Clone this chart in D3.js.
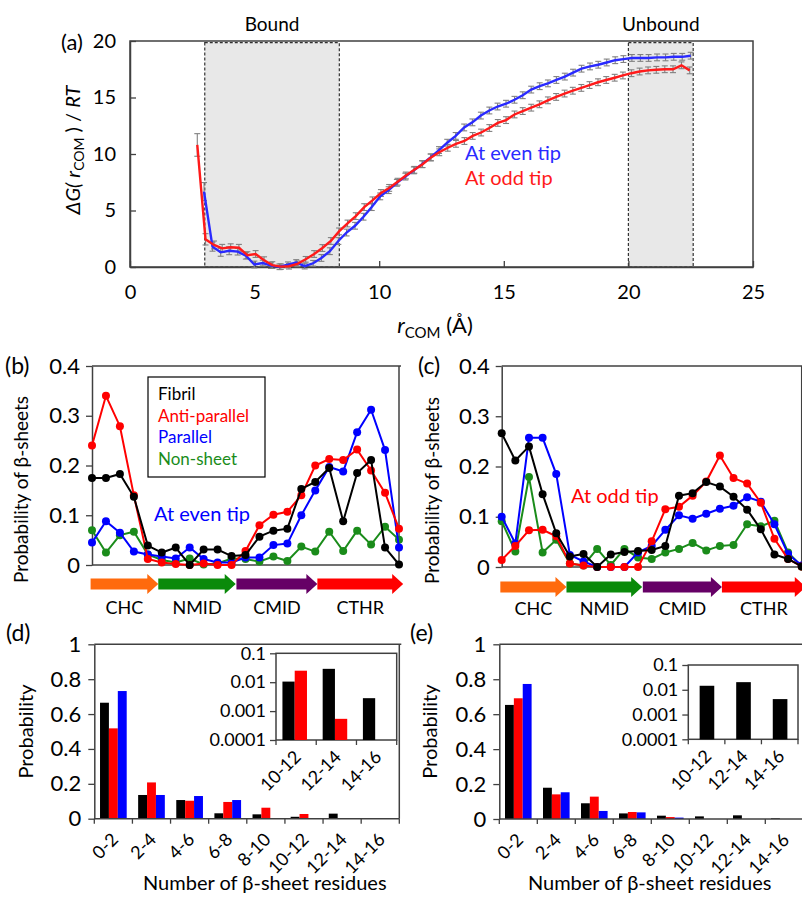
<!DOCTYPE html>
<html><head><meta charset="utf-8">
<script src="https://cdn.jsdelivr.net/npm/d3@7"></script>
<style>body{margin:0;background:#fff}svg text{font-family:Lato,'Open Sans',sans-serif;fill:#000}</style>
</head><body><svg id="c" width="802" height="899"></svg>
<script>
// ---------- DATA ----------
// (a) free energy profiles
const rOdd = [2.70,3.03,3.37,3.70,4.04,4.37,4.71,5.04,5.38,5.71,6.05,6.38,6.72,7.05,7.39,7.72,8.06,8.39,8.73,9.06,9.40,9.73,10.07,10.40,10.74,11.07,11.41,11.74,12.08,12.41,12.75,13.08,13.42,13.75,14.09,14.42,14.76,15.09,15.43,15.76,16.10,16.43,16.77,17.10,17.44,17.77,18.11,18.44,18.78,19.11,19.45,19.78,20.12,20.45,20.79,21.12,21.46,21.79,22.13,22.46];
const gOdd = [10.8,2.45,1.95,1.65,1.75,1.7,1.05,1.15,0.6,0.17,0.03,0.07,0.28,0.68,1.15,1.68,2.3,3.15,3.85,4.5,5.3,5.9,6.55,7.0,7.55,8.1,8.6,9.1,9.7,10.15,10.55,10.9,11.15,11.6,11.9,12.3,12.75,13.0,13.5,13.8,14.1,14.4,14.75,15.05,15.35,15.6,15.85,16.1,16.35,16.55,16.75,16.95,17.15,17.3,17.4,17.45,17.5,17.5,17.85,17.4];
const eOdd = [1.0,0.5,0.35,0.35,0.3,0.3,0.3,0.3,0.3,0.3,0.25,0.25,0.25,0.25,0.3,0.3,0.3,0.3,0.3,0.3,0.3,0.3,0.3,0.3,0.3,0.3,0.3,0.3,0.3,0.3,0.3,0.3,0.3,0.3,0.3,0.3,0.3,0.3,0.3,0.3,0.3,0.3,0.3,0.3,0.3,0.3,0.3,0.3,0.3,0.3,0.3,0.3,0.3,0.3,0.3,0.3,0.3,0.3,0.3,0.3];
const rEven = [2.97,3.31,3.64,3.98,4.32,4.65,4.99,5.33,5.66,6.00,6.34,6.67,7.01,7.35,7.68,8.02,8.36,8.69,9.03,9.37,9.70,10.04,10.38,10.71,11.05,11.39,11.72,12.06,12.40,12.73,13.07,13.41,13.74,14.08,14.42,14.75,15.09,15.43,15.76,16.10,16.44,16.77,17.11,17.45,17.78,18.12,18.46,18.79,19.13,19.47,19.80,20.14,20.48,20.81,21.15,21.49,21.82,22.16,22.50];
const gEven = [6.67,1.8,1.3,1.44,1.36,1.0,0.22,0.35,0.12,0.02,0.2,0.4,0.08,0.33,0.8,1.4,2.3,3.05,3.65,4.45,5.3,6.25,6.8,7.45,8.0,8.55,9.1,9.7,10.35,11.0,11.6,12.35,12.8,13.4,13.85,14.2,14.45,14.8,15.2,15.7,16.0,16.25,16.55,16.85,17.2,17.55,17.75,17.9,18.1,18.3,18.4,18.5,18.5,18.5,18.55,18.55,18.6,18.6,18.7];
const eEven = [0.8,0.4,0.35,0.35,0.3,0.3,0.3,0.25,0.25,0.25,0.25,0.25,0.25,0.25,0.3,0.3,0.3,0.3,0.3,0.3,0.3,0.3,0.3,0.3,0.3,0.3,0.3,0.3,0.3,0.3,0.3,0.3,0.3,0.3,0.3,0.3,0.3,0.3,0.3,0.3,0.3,0.3,0.3,0.3,0.3,0.3,0.3,0.3,0.3,0.3,0.3,0.3,0.3,0.3,0.3,0.3,0.3,0.3,0.3];
const aXTicks = [0,5,10,15,20,25];
const aYTicks = [0,5,10,15,20];
const regionNames = ["Bound","Unbound"];
const regionFrom = [3.0,20.0];
const regionTo = [8.4,22.6];
const seriesA = ["At even tip","At odd tip"];

// (b),(c) per-residue beta-sheet probability (23 residues)
const profSeries = ["Fibril","Anti-parallel","Parallel","Non-sheet"];
const bFibril = [0.175,0.175,0.183,0.137,0.039,0.025,0.035,0.0,0.031,0.031,0.018,0.020,0.057,0.069,0.073,0.153,0.167,0.195,0.088,0.185,0.211,0.035,0.001];
const bAnti   = [0.240,0.340,0.279,0.140,0.012,0.005,0.002,0.0,0.003,0.0,0.0,0.028,0.080,0.101,0.107,0.140,0.200,0.213,0.211,0.232,0.190,0.145,0.073];
const bPar    = [0.045,0.088,0.065,0.027,0.021,0.017,0.013,0.035,0.012,0.005,0.005,0.015,0.015,0.040,0.043,0.100,0.150,0.197,0.188,0.267,0.312,0.231,0.035];
const bNon    = [0.070,0.025,0.060,0.067,0.021,0.010,0.005,0.013,0.001,0.003,0.013,0.012,0.007,0.017,0.008,0.037,0.027,0.067,0.028,0.069,0.041,0.077,0.051];
const cFibril = [0.266,0.212,0.240,0.145,0.067,0.021,0.026,0.0,0.025,0.030,0.032,0.034,0.042,0.142,0.147,0.169,0.160,0.140,0.114,0.075,0.025,0.016,0.001];
const cAnti   = [0.014,0.042,0.073,0.074,0.061,0.007,0.003,0.0,0.0,0.0,0.0,0.051,0.115,0.120,0.142,0.170,0.222,0.177,0.166,0.128,0.056,0.016,0.001];
const cPar    = [0.100,0.047,0.257,0.257,0.185,0.024,0.011,0.0,0.0,0.0,0.029,0.042,0.074,0.103,0.096,0.106,0.116,0.122,0.139,0.130,0.085,0.026,0.003];
const cNon    = [0.091,0.031,0.179,0.029,0.054,0.007,0.003,0.036,0.004,0.036,0.019,0.016,0.029,0.036,0.048,0.033,0.042,0.044,0.085,0.081,0.092,0.029,0.001];
const profYTicks = [0,0.1,0.2,0.3,0.4];
const profYLabels = ["0","0.1","0.2","0.3","0.4"];
const segNames = ["CHC","NMID","CMID","CTHR"];
const segFrom = [-0.1,4.75,10.35,16.15];
const segTo   = [4.75,10.3,16.15,22.3];

// (d),(e) distribution of number of beta-sheet residues
const sizeCats = ["0-2","2-4","4-6","6-8","8-10","10-12","12-14","14-16"];
const dFibril = [0.665,0.136,0.107,0.031,0.025,0.011,0.029,0.003];
const dAnti   = [0.518,0.208,0.103,0.096,0.063,0.027,0.0005,0];
const dPar    = [0.732,0.136,0.130,0.107,0,0,0,0];
const eFibril = [0.653,0.179,0.090,0.032,0.019,0.015,0.021,0.004];
const eAnti   = [0.691,0.141,0.128,0.040,0.011,0,0,0];
const ePar    = [0.773,0.153,0.046,0.038,0.008,0,0,0];
const insetCats = ["10-12","12-14","14-16"];
const dInsetFibril = [0.0105,0.029,0.0028];
const dInsetAnti   = [0.025,0.00054,0];
const eInsetFibril = [0.0145,0.0203,0.0042];
const barYTicks = [0,0.2,0.4,0.6,0.8,1];
const barYLabels = ["0","0.2","0.4","0.6","0.8","1"];
const logTicks = [0.0001,0.001,0.01,0.1];
const logLabels = ["0.0001","0.001","0.01","0.1"];

// ---------- DRAW ----------
const svg = d3.select("#c");
const AX = "#404040";
const COL = {black:"#000000", red:"#ff0000", blue:"#0000ff", green:"#1a8c1a"};
const profColors = [COL.black, COL.red, COL.blue, COL.green];
const segColors = ["#ff6a0d","#0a8a0a","#660066","#ff0000"];

function styleAxis(g, fs){
  g.attr("font-size", fs).attr("font-family", null);
  g.select(".domain").attr("stroke", AX).attr("stroke-width", 1.5);
  g.selectAll(".tick line").attr("stroke", AX).attr("stroke-width", 1.3);
  g.selectAll(".tick text").attr("font-size", fs).style("font-size", fs+"px").attr("fill","#000");
}
function txt(x, y, s, fs, opt={}){
  const t = svg.append("text").attr("x", x).attr("y", y).attr("font-size", fs).text(s);
  if (opt.anchor) t.attr("text-anchor", opt.anchor);
  if (opt.fill) t.style("fill", opt.fill);
  if (opt.rot) t.attr("transform", `rotate(${opt.rot},${x},${y})`);
  return t;
}

// ===== Panel (a) =====
const xA = d3.scaleLinear().domain([0,25]).range([130,753]);
const yA = d3.scaleLinear().domain([0,20]).range([267,41]);
regionNames.forEach((n,i)=>{
  svg.append("rect").attr("x", xA(regionFrom[i])).attr("y", yA(19.85))
    .attr("width", xA(regionTo[i])-xA(regionFrom[i])).attr("height", yA(0)-yA(19.85))
    .attr("fill","#e8e8e8").attr("stroke","#333").attr("stroke-width",1.2).attr("stroke-dasharray","3,2");
  txt((xA(regionFrom[i])+xA(regionTo[i]))/2, 31, n, 19, {anchor:"middle"});
});
svg.append("rect").attr("x", xA(0)).attr("y", yA(20)).attr("width", xA(25)-xA(0)).attr("height", yA(0)-yA(20))
  .attr("fill","none").attr("stroke", AX).attr("stroke-width",1.5);
const gxA = svg.append("g").attr("transform",`translate(0,${yA(0)})`)
  .call(d3.axisBottom(xA).tickValues(aXTicks).tickSizeInner(-6).tickSizeOuter(0).tickPadding(18));
styleAxis(gxA, 20);
const gyA = svg.append("g").attr("transform",`translate(${xA(0)},0)`)
  .call(d3.axisLeft(yA).tickValues(aYTicks).tickSizeInner(-6).tickSizeOuter(0).tickPadding(14));
styleAxis(gyA, 20);

function errBars(rs, gs, es){
  const g = svg.append("g").attr("stroke","#808080").attr("stroke-width",1.1);
  rs.forEach((r,i)=>{
    const x = xA(r), y1 = yA(gs[i]-es[i]), y2 = yA(gs[i]+es[i]);
    g.append("line").attr("x1",x).attr("x2",x).attr("y1",y1).attr("y2",y2);
    g.append("line").attr("x1",x-3).attr("x2",x+3).attr("y1",y1).attr("y2",y1);
    g.append("line").attr("x1",x-3).attr("x2",x+3).attr("y1",y2).attr("y2",y2);
  });
}
errBars(rEven, gEven, eEven);
errBars(rOdd, gOdd, eOdd);
const lineA = d3.line().x(d=>xA(d[0])).y(d=>yA(d[1]));
svg.append("path").datum(rEven.map((r,i)=>[r,gEven[i]])).attr("d", lineA)
  .attr("fill","none").attr("stroke","#2a2aff").attr("stroke-width",2.4);
svg.append("path").datum(rOdd.map((r,i)=>[r,gOdd[i]])).attr("d", lineA)
  .attr("fill","none").attr("stroke","#ff1a1a").attr("stroke-width",2.4);
txt(465, 160, seriesA[0], 20, {fill:"#2a2aff"});
txt(465, 185, seriesA[1], 20, {fill:"#ff1a1a"});
txt(61, 50, "(a)", 22);
{
  const t = svg.append("text").attr("transform","translate(80,150) rotate(-90)").attr("text-anchor","middle").attr("font-size",20);
  t.append("tspan").attr("font-style","italic").text("ΔG(");
  t.append("tspan").text(" ");
  t.append("tspan").attr("font-style","italic").text("r");
  t.append("tspan").attr("font-size",14).attr("dy",4).text("COM");
  t.append("tspan").attr("dy",-4).text(" ) / ");
  t.append("tspan").attr("font-style","italic").text("RT");
}
{
  const t = svg.append("text").attr("x",435).attr("y",333).attr("text-anchor","middle").attr("font-size",22);
  t.append("tspan").attr("font-style","italic").text("r");
  t.append("tspan").attr("font-size",15).attr("dy",5).text("COM");
  t.append("tspan").attr("dy",-5).text(" (Å)");
}

// ===== Panels (b),(c) =====
function profile(o){
  const x = d3.scaleLinear().domain([0,22]).range(o.xr);
  const y = d3.scaleLinear().domain([0,0.4]).range(o.yr);
  svg.append("line").attr("x1",o.xr[0]).attr("x2",o.xr[1]+2).attr("y1",o.yr[1]).attr("y2",o.yr[1]).attr("stroke",AX).attr("stroke-width",1.5);
  svg.append("line").attr("x1",o.xr[1]).attr("x2",o.xr[1]).attr("y1",o.yr[1]).attr("y2",o.yr[0]).attr("stroke",AX).attr("stroke-width",1.5);
  const gy = svg.append("g").attr("transform",`translate(${o.xr[0]},0)`)
    .call(d3.axisLeft(y).tickValues(profYTicks).tickFormat((d,i)=>profYLabels[i]).tickSizeInner(6).tickSizeOuter(0).tickPadding(6));
  styleAxis(gy, 22);
  svg.append("line").attr("x1",o.xr[0]).attr("x2",o.xr[1]).attr("y1",o.yr[0]).attr("y2",o.yr[0]).attr("stroke",AX).attr("stroke-width",1.5);
  const line = d3.line().x((d,i)=>x(i)).y(d=>y(d));
  [3,2,1,0].forEach(k=>{
    const vals = o.data[k];
    svg.append("path").datum(vals).attr("d", line).attr("fill","none").attr("stroke", profColors[k]).attr("stroke-width",2);
    svg.append("g").selectAll("circle").data(vals).join("circle")
      .attr("cx",(d,i)=>x(i)).attr("cy",d=>y(d)).attr("r",4).attr("fill", profColors[k]);
  });
  segNames.forEach((n,i)=>{
    const x0 = x(segFrom[i]), x1 = x(segTo[i]), cy = o.arrowY, hl = 11;
    const p = [[x0,cy-5.5],[x1-hl,cy-5.5],[x1-hl,cy-10],[x1,cy],[x1-hl,cy+10],[x1-hl,cy+5.5],[x0,cy+5.5]];
    svg.append("path").attr("d", d3.line()(p)+"Z").attr("fill", segColors[i]);
    txt((x0+x1)/2, o.labelY, n, 18, {anchor:"middle"});
  });
  svg.append("text").attr("transform",`translate(${o.titleX},${(o.yr[0]+o.yr[1])/2+24}) rotate(-90)`)
    .attr("text-anchor","middle").attr("font-size",19).text("Probability of β-sheets");
  txt(o.tagX, o.yr[1]+8, o.tag, 23);
  return {x,y};
}
profile({xr:[92,399], yr:[565,366], data:[bFibril,bAnti,bPar,bNon], arrowY:584, labelY:614, titleX:28, tagX:5, tag:"(b)"});
profile({xr:[501.7,801.7], yr:[567,366], data:[cFibril,cAnti,cPar,cNon], arrowY:587, labelY:615, titleX:439, tagX:418, tag:"(c)"});
svg.append("rect").attr("x",148).attr("y",377).attr("width",117).attr("height",100).attr("fill","#fff").attr("stroke","#000").attr("stroke-width",1.2);
profSeries.forEach((s,i)=>txt(158, 400+i*21.7, s, 17, {fill: profColors[i]}));
txt(154, 521, "At even tip", 20, {fill:COL.blue});
txt(571, 503, "At odd tip", 20, {fill:COL.red});

// ===== Panels (d),(e) =====
function bars(o){
  const x = d3.scaleBand().domain(sizeCats).range(o.xr).padding(0);
  const y = d3.scaleLinear().domain([0,1]).range(o.yr);
  svg.append("line").attr("x1",o.xr[0]).attr("x2",o.xr[1]+2).attr("y1",o.yr[1]).attr("y2",o.yr[1]).attr("stroke",AX).attr("stroke-width",1.5);
  svg.append("line").attr("x1",o.xr[1]).attr("x2",o.xr[1]).attr("y1",o.yr[1]).attr("y2",o.yr[0]).attr("stroke",AX).attr("stroke-width",1.5);
  const bw = x.bandwidth();
  const sub = d3.scaleBand().domain([0,1,2]).range([bw*0.15, bw*0.85]).padding(0);
  const cols = [COL.black, COL.red, COL.blue];
  o.data.forEach((vals,k)=>{
    svg.append("g").selectAll("rect").data(vals).join("rect")
      .attr("x",(d,i)=>x(sizeCats[i])+sub(k)).attr("width",sub.bandwidth())
      .attr("y",d=>y(d)).attr("height",d=>y(0)-y(d)).attr("fill",cols[k]);
  });
  const gy = svg.append("g").attr("transform",`translate(${o.xr[0]},0)`)
    .call(d3.axisLeft(y).tickValues(barYTicks).tickFormat((d,i)=>barYLabels[i]).tickSizeInner(6).tickSizeOuter(0).tickPadding(7));
  styleAxis(gy, 22);
  svg.append("line").attr("x1",o.xr[0]).attr("x2",o.xr[1]).attr("y1",o.yr[0]).attr("y2",o.yr[0]).attr("stroke",AX).attr("stroke-width",1.5);
  sizeCats.forEach((c,i)=>{
    const xb = x(c);
    svg.append("line").attr("x1",xb).attr("x2",xb).attr("y1",o.yr[0]).attr("y2",o.yr[0]+5).attr("stroke",AX).attr("stroke-width",1.3);
    txt(xb + bw/2 + 6, o.yr[0] + 22, c, 18, {anchor:"end", rot:-45});
  });
  svg.append("line").attr("x1",o.xr[1]).attr("x2",o.xr[1]).attr("y1",o.yr[0]).attr("y2",o.yr[0]+5).attr("stroke",AX).attr("stroke-width",1.3);
  const xi = d3.scaleBand().domain(insetCats).range(o.ixr).padding(0);
  const yi = d3.scaleLog().domain([1e-4,0.1]).range(o.iyr);
  svg.append("rect").attr("x",o.ixr[0]).attr("y",o.iyr[1]).attr("width",o.ixr[1]-o.ixr[0]).attr("height",o.iyr[0]-o.iyr[1])
    .attr("fill","#fff").attr("stroke",AX).attr("stroke-width",1.5);
  const ibw = xi.bandwidth();
  o.idata.forEach((vals,k)=>{
    svg.append("g").selectAll("rect").data(vals.map((v,i)=>({v,i})).filter(d=>d.v>0)).join("rect")
      .attr("x",d=>xi(insetCats[d.i]) + ibw*o.ioff + k*ibw*o.ibar).attr("width", ibw*o.ibar)
      .attr("y",d=>yi(d.v)).attr("height",d=>yi(1e-4)-yi(d.v)).attr("fill",cols[k]);
  });
  const giy = svg.append("g").attr("transform",`translate(${o.ixr[0]},0)`)
    .call(d3.axisLeft(yi).tickValues(logTicks).tickFormat((d,i)=>logLabels[i]).tickSizeInner(6).tickSizeOuter(0).tickPadding(4));
  styleAxis(giy, 18);
  giy.select(".domain").remove();
  insetCats.concat([null]).forEach((c,i)=>{
    const xb = c ? xi(c) : o.ixr[1];
    svg.append("line").attr("x1",xb).attr("x2",xb).attr("y1",o.iyr[0]).attr("y2",o.iyr[0]+5).attr("stroke",AX).attr("stroke-width",1.3);
    if (c) txt(xb + ibw/2 + 6, o.iyr[0] + 18, c, 18, {anchor:"end", rot:-45});
  });
  svg.append("text").attr("transform",`translate(${o.titleX},${(o.yr[0]+o.yr[1])/2})`+" rotate(-90)")
    .attr("text-anchor","middle").attr("font-size",20).text("Probability");
  txt((o.xr[0]+Math.min(o.xr[1],800))/2 + o.xlabShift, 890, "Number of β-sheet residues", 20, {anchor:"middle"});
  txt(o.tagX, 641, o.tag, 23);
}
bars({xr:[94.3,399.3], yr:[818.7,644.3], data:[dFibril,dAnti,dPar], ixr:[276,396.7], iyr:[740,653.3],
  idata:[dInsetFibril,dInsetAnti], ioff:0.16, ibar:0.305, titleX:33, tagX:6, tag:"(d)", xlabShift:18});
bars({xr:[499.3,803.3], yr:[819,644.3], data:[eFibril,eAnti,ePar], ixr:[688.3,798], iyr:[739.3,665],
  idata:[eInsetFibril], ioff:0.31, ibar:0.4, titleX:437, tagX:410, tag:"(e)", xlabShift:0});
</script></body></html>
